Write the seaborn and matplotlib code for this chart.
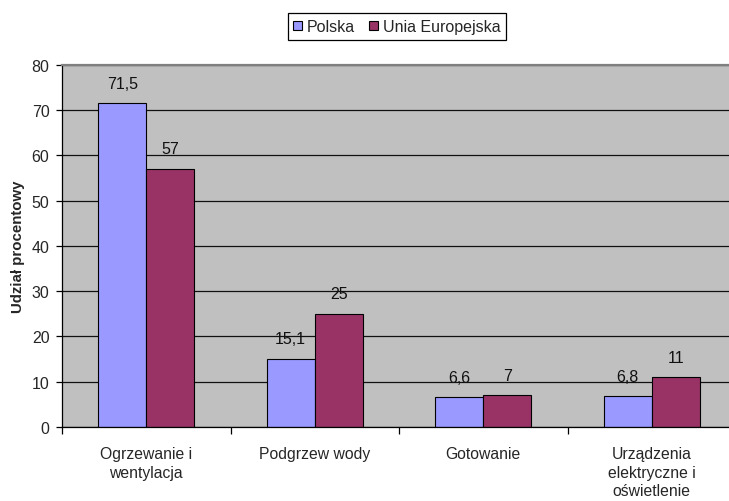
import matplotlib
matplotlib.use("Agg")
import matplotlib.pyplot as plt
from matplotlib.ticker import FixedLocator, NullFormatter
import seaborn as sns
import pandas as pd

categories = ["Ogrzewanie i\nwentylacja", "Podgrzew wody", "Gotowanie",
              "Urządzenia\nelektryczne i\noświetlenie"]
series_names = ["Polska", "Unia Europejska"]
polska = [71.5, 15.1, 6.6, 6.8]
ue = [57, 25, 7, 11]
y_ticks = [0, 10, 20, 30, 40, 50, 60, 70, 80]
y_label = "Udział procentowy"
colors = ["#9999FF", "#993366"]

df = pd.DataFrame({
    "kategoria": categories * 2,
    "seria": [series_names[0]] * 4 + [series_names[1]] * 4,
    "wartosc": polska + ue,
})

sns.set_theme(style="white")
plt.rcParams["font.family"] = ["Liberation Sans", "DejaVu Sans"]

fig = plt.figure(figsize=(7.29, 5.02), dpi=100)
ax = fig.add_axes([62 / 729, 1 - 428 / 502, 674 / 729, (428 - 65.7) / 502])
ax.set_facecolor("#C0C0C0")

sns.barplot(data=df, x="kategoria", y="wartosc", hue="seria",
            order=categories, hue_order=series_names, palette=colors,
            width=0.57, gap=0, edgecolor="black", linewidth=0.8,
            saturation=1, ax=ax, errorbar=None)

def fmt(v):
    s = f"{v:g}"
    return s.replace(".", ",")

for cont in ax.containers:
    ax.bar_label(cont, labels=[fmt(b.get_height()) for b in cont],
                 padding=9, fontsize=11.5, color="#111111")

ax.set_ylim(0, 80)
ax.set_xlim(-0.5, 3.5)
ax.set_yticks(y_ticks)
ax.yaxis.grid(True, color="#111111", linewidth=0.9)
ax.set_axisbelow(True)
ax.tick_params(axis="y", direction="out", length=4, width=0.9, color="black",
               labelsize=11.5, pad=5, left=True)

ax.xaxis.set_major_locator(FixedLocator([-0.5, 0.5, 1.5, 2.5, 3.5]))
ax.xaxis.set_major_formatter(NullFormatter())
ax.xaxis.set_minor_locator(FixedLocator([0, 1, 2, 3]))
ax.set_xticklabels(categories, minor=True)
ax.tick_params(axis="x", which="major", direction="out", length=5, width=0.9,
               color="black", bottom=True)
ax.tick_params(axis="x", which="minor", length=0, labelsize=11.3, pad=14)
for t in ax.get_xticklabels(minor=True):
    t.set_linespacing(1.28)

ax.set_xlabel("")
ax.set_ylabel(y_label, fontsize=10.8, fontweight="bold")
ax.yaxis.set_label_coords(-0.055, 0.5)

for side in ["left", "bottom"]:
    ax.spines[side].set_color("black")
    ax.spines[side].set_linewidth(0.9)
ax.spines["top"].set_color("#808080")
ax.spines["top"].set_linewidth(1.6)
ax.spines["right"].set_visible(False)

sns.move_legend(ax, "center", bbox_to_anchor=(397 / 729, 1 - 27.5 / 502),
                bbox_transform=fig.transFigure, ncol=2, title=None,
                frameon=True, fancybox=False, edgecolor="black",
                fontsize=11.5, handlelength=0.55, handleheight=0.55,
                handletextpad=0.3, columnspacing=0.9, borderpad=0.35,
                borderaxespad=0)
leg = ax.get_legend()
leg.get_frame().set_linewidth(0.9)
leg.get_frame().set_facecolor("white")
leg.get_frame().set_alpha(1)

fig.savefig("out.png", dpi=100, facecolor="white")
